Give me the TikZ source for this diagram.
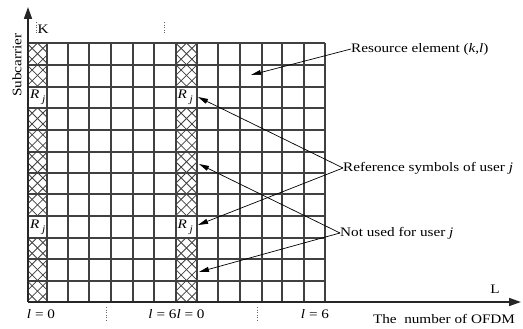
\documentclass[tikz,border=0pt]{standalone}
\usepackage{fontspec}
\usepackage{graphicx}
\setmainfont{Liberation Serif}
\usetikzlibrary{arrows.meta}
\newcommand\wide[1]{\scalebox{1.17}[1]{#1}}
\begin{document}
\begin{tikzpicture}[x=1pt,y=-1pt,
  txt/.style={inner sep=0pt,font=\fontsize{13}{15}\selectfont},
  gridline/.style={line width=1.8pt,black!75},
  hatchline/.style={line width=0.8pt,black!75},
  axis/.style={line width=1.6pt,black!85,-{Triangle[length=12pt,width=8pt]}},
  pointer/.style={line width=0.7pt,-{Triangle[length=10pt,width=5pt]}},
  dots/.style={dotted,line width=0.6pt,black!60}]
\useasboundingbox (0,0) rectangle (523,329);
% hatched columns
\foreach \xa/\xb in {28/47, 176/197}{
  \pgfmathsetmacro\cx{(\xa+\xb)/2}
  \begin{scope}
    \clip (\xa,43) rectangle (\xb,302);
    \foreach \k in {-3,...,28}{
      \pgfmathsetmacro\yc{43+\k*10.79}
      \draw[hatchline] (\cx-25,\yc-25) -- (\cx+25,\yc+25);
      \draw[hatchline] (\cx-25,\yc+25) -- (\cx+25,\yc-25);
    }
  \end{scope}
  \fill[white] (\xa,87) rectangle (\xb,108);
  \fill[white] (\xa,216) rectangle (\xb,238);
}
% grid
\foreach \xx in {47,68,89,111,133,154,176,197,218,240,262,282,304,325}{
  \draw[gridline] (\xx,43) -- (\xx,302);
}
\foreach \yy in {43,65,87,108,130,152,173,194,216,238,259,281}{
  \draw[gridline] (28,\yy) -- (325,\yy);
}
% axes
\coordinate (O) at (28,302);
\coordinate (Ytip) at (28,7);
\coordinate (Xtip) at (521,302);
\draw[axis] (O) -- (Ytip);
\draw[axis] (O) -- (Xtip);
% axis labels
\node[txt,rotate=90] (sub) at (17,65) {\wide{Subcarrier}};
\node[txt] (K) at (43,29) {\wide{K}};
\node[txt] (L) at (495,289) {\wide{L}};
\node[txt] (ofdm) at (444,319) {\wide{The\ \ number of OFDM}};
\node[txt] (l0) at (41,314) {\wide{\textit{l} = 0}};
\node[txt] (l6l0) at (176.5,314) {\wide{\textit{l} = 6\textit{l} = 0}};
\node[txt] (l6) at (315,314) {\wide{\textit{l} = 6}};
% dotted marks
\draw[dots] (36,22) -- (36,34);
\draw[dots] (164,22) -- (164,34);
\draw[dots] (106.5,307) -- (106.5,322);
\draw[dots] (257,307) -- (257,322);
% R_j labels
\foreach \n/\xx/\yy in {ra/30/97, rb/177.5/97, rc/30/227, rd/177.5/227}{
  \node[txt,anchor=west] (\n) at (\xx,\yy) {\wide{\textit{R}\raisebox{-4pt}{\,\fontsize{10}{12}\selectfont\textit{j}}}};
}
% annotation labels
\node[txt,anchor=west] (res) at (351,49) {\wide{Resource element (\textit{k},\textit{l})}};
\node[txt,anchor=west] (refs) at (343,168) {\wide{Reference symbols of user \textit{j}}};
\node[txt,anchor=west] (notu) at (340,233) {\wide{Not used for user \textit{j}}};
% targets
\coordinate (tRE) at (251,75);
\coordinate (tR1) at (198,97);
\coordinate (tR2) at (198,225);
\coordinate (tN1) at (199,164);
\coordinate (tN2) at (199,272);
\draw[pointer] (res.west) -- (tRE);
\draw[pointer] (refs.west) -- (tR1);
\draw[pointer] (refs.west) -- (tR2);
\draw[pointer] (notu.west) -- (tN1);
\draw[pointer] (notu.west) -- (tN2);
\end{tikzpicture}
\end{document}
